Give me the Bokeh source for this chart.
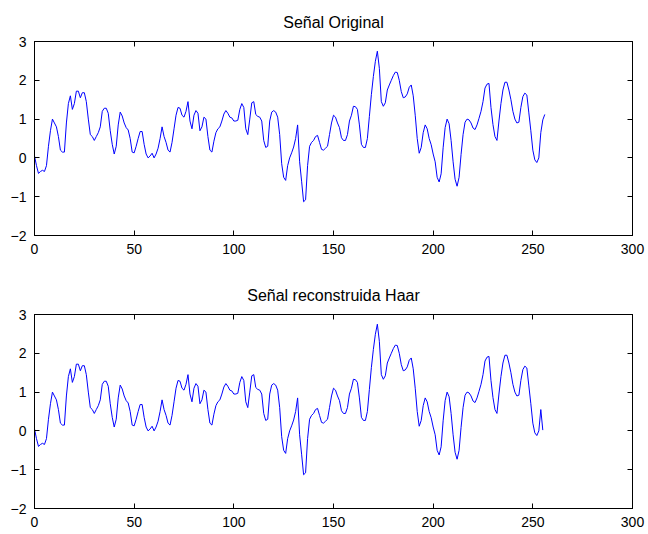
from bokeh.plotting import figure
from bokeh.models import Range1d, FixedTicker, LinearAxis
from bokeh.layouts import column
from bokeh.embed import file_html
from bokeh.resources import INLINE

# ---- data ----
original = [
    0.05, -0.2, -0.4, -0.35, -0.32, -0.35, -0.2, 0.3, 0.7, 1.0,
    0.9, 0.8, 0.55, 0.2, 0.15, 0.15, 0.9, 1.4, 1.6, 1.25,
    1.4, 1.72, 1.72, 1.55, 1.68, 1.68, 1.45, 1.0, 0.6, 0.55,
    0.45, 0.55, 0.65, 0.8, 1.2, 1.28, 1.28, 1.15, 0.7, 0.35,
    0.1, 0.3, 0.85, 1.18, 1.08, 0.9, 0.78, 0.72, 0.5, 0.15,
    0.13, 0.3, 0.5, 0.68, 0.68, 0.35, 0.1, 0.0, 0.05, 0.12,
    0.0, 0.1, 0.25, 0.5, 0.8, 0.55, 0.4, 0.2, 0.15, 0.4,
    0.75, 1.1, 1.3, 1.28, 1.1, 1.05, 1.2, 1.45, 0.95, 0.75,
    1.1, 1.22, 1.15, 0.7, 0.8, 1.05, 1.0, 0.55, 0.2, 0.15,
    0.43, 0.65, 0.75, 0.8, 0.95, 1.13, 1.22, 1.15, 1.05, 1.03,
    0.95, 0.95, 0.97, 1.25, 1.4, 1.3, 0.75, 0.6, 1.0, 1.42,
    1.45, 1.12, 1.07, 1.05, 0.95, 0.45, 0.27, 0.3, 0.95, 1.18,
    1.22, 1.18, 1.05, 0.6, -0.15, -0.5, -0.58, -0.2, 0.0, 0.13,
    0.28, 0.5, 0.85, -0.1, -0.6, -1.13, -1.08, -0.2, 0.3, 0.4,
    0.45, 0.55, 0.58, 0.4, 0.22, 0.2, 0.25, 0.3, 0.6, 0.9,
    1.1, 1.05, 0.9, 0.78, 0.52, 0.45, 0.45, 0.6, 0.95, 1.1,
    1.33, 1.32, 1.25, 0.85, 0.35, 0.27, 0.27, 0.5, 1.07, 1.63,
    2.1, 2.49, 2.75, 2.31, 1.45, 1.33, 1.42, 1.75, 1.88, 2.0,
    2.12, 2.21, 2.2, 2.0, 1.71, 1.55, 1.57, 1.65, 1.82, 1.88,
    1.6, 1.1, 0.5, 0.12, 0.27, 0.65, 0.85, 0.75, 0.5, 0.34,
    0.1, -0.1, -0.5, -0.62, -0.41, 0.26, 0.78, 1.0, 0.88, 0.45,
    -0.1, -0.55, -0.73, -0.5, 0.09, 0.6, 0.92, 1.0, 0.98, 0.9,
    0.77, 0.73, 0.85, 1.02, 1.2, 1.45, 1.8, 1.9, 1.92, 1.3,
    0.86, 0.55, 0.45, 0.95, 1.4, 1.75, 1.95, 1.95, 1.75, 1.5,
    1.2, 1.0, 0.9, 0.92, 1.3, 1.58, 1.67, 1.62, 1.16, 0.7,
    0.2, -0.05, -0.12, 0.0, 0.65, 0.98, 1.12,
]
reconstructed = original[:254] + [0.55, 0.02]

x_original = list(range(len(original)))
x_reconstructed = list(range(len(reconstructed)))

titles = ["Señal Original", "Señal reconstruida Haar"]
x_ticks = [0, 50, 100, 150, 200, 250, 300]
y_ticks = [-2, -1, 0, 1, 2, 3]

FONT = "Liberation Sans"


def make_panel(title, xs, ys, height, top, bottom):
    p = figure(width=648, height=height, output_backend="svg",
               toolbar_location=None, x_range=Range1d(0, 300),
               y_range=Range1d(-2, 3), min_border_left=34,
               min_border_right=16, min_border_top=top,
               min_border_bottom=bottom)
    p.title.text = title
    p.title.align = "center"
    p.title.text_font = FONT
    p.title.text_font_size = "16px"
    p.title.text_font_style = "normal"
    p.title.text_color = "black"
    p.title.standoff = 22
    p.grid.visible = False
    p.outline_line_color = "black"
    p.outline_line_width = 1
    p.outline_line_alpha = 1.0
    p.background_fill_color = "white"
    p.border_fill_color = "white"

    for ax, ticks in ((p.xaxis[0], x_ticks), (p.yaxis[0], y_ticks)):
        ax.ticker = FixedTicker(ticks=ticks)
        ax.major_tick_in = 5
        ax.major_tick_out = 0
        ax.minor_tick_line_color = None
        ax.major_label_text_font = FONT
        ax.major_label_text_font_size = "14px"
        ax.major_label_text_color = "black"
        ax.axis_line_color = "black"
        ax.major_tick_line_color = "black"
    p.xaxis[0].major_label_standoff = 8
    p.yaxis[0].major_label_standoff = 8

    for loc, ticks in (("right", y_ticks), ("above", x_ticks)):
        ax2 = LinearAxis(ticker=FixedTicker(ticks=ticks))
        ax2.major_tick_in = 5
        ax2.major_tick_out = 0
        ax2.minor_tick_line_color = None
        ax2.major_label_text_font_size = "1px"
        ax2.major_label_text_color = None
        ax2.major_label_standoff = 0
        ax2.axis_line_color = "black"
        ax2.major_tick_line_color = "black"
        p.add_layout(ax2, loc)

    p.line(xs, ys, line_color="#0000FF", line_width=1)
    return p


p1 = make_panel(titles[0], x_original, original, 266, 41, 31)
p2 = make_panel(titles[1], x_reconstructed, reconstructed, 267, 48, 25)

layout = column(p1, p2, spacing=0)
open("out.html", "w").write(file_html(layout, INLINE))
